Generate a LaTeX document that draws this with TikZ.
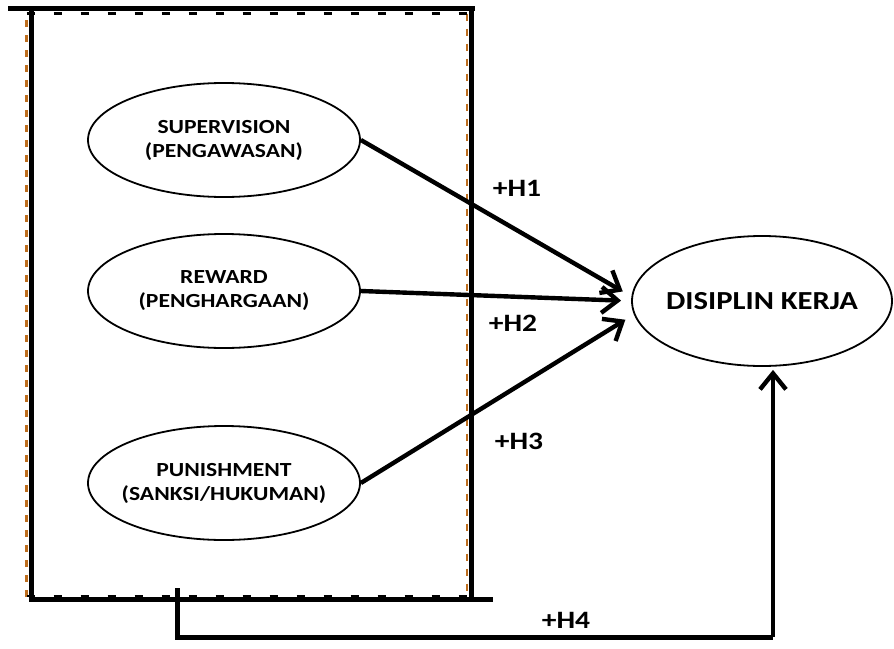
\documentclass[tikz,border=0pt]{standalone}
\usepackage{fontspec}
\setmainfont{Carlito}
\newfontfamily\widefont[FakeStretch=1.18]{Carlito}
\usetikzlibrary{positioning,shapes.geometric,arrows.meta}
\definecolor{dashbrown}{RGB}{190,110,30}
\tikzset{
  varnode/.style={ellipse, draw, line width=1.8pt, minimum width=272pt, minimum height=114pt,
    inner xsep=-25pt, inner ysep=0pt, align=center, font=\widefont\fontsize{20}{24}\selectfont\bfseries},
  hyplabel/.style={font=\widefont\fontsize{25}{30}\selectfont\bfseries},
  framewall/.style={line width=5pt},
  link/.style={line width=4.4pt, -{Straight Barb[length=16pt,width=26pt]}}
}

\begin{document}
\begin{tikzpicture}[x=1pt,y=-1pt]
  \useasboundingbox (0,0) rectangle (894,648);

  % frame round the independent variables
  \draw[dashbrown, line width=2.5pt, dash pattern=on 7pt off 8pt] (26.5,597) -- (26.5,13.5);
  \draw[dashbrown, line width=2.5pt, dash pattern=on 7pt off 8pt] (467,13.5) -- (467,597);
  \draw[line width=2.5pt, dash pattern=on 8pt off 19pt] (26.5,13.5) -- (467,13.5);
  \draw[line width=2.5pt, dash pattern=on 8pt off 19pt] (26.5,596) -- (467,596);
  \draw[framewall] (8,8.5) -- (475,8.5);
  \draw[framewall] (31.5,8) -- (31.5,600);
  \draw[framewall] (471.5,8) -- (471.5,600);
  \draw[framewall] (29,599.5) -- (493,599.5);

  % variables
  \node[varnode] (sup) at (224,140) {SUPERVISION\\(PENGAWASAN)};
  \node[varnode] (rew) at (224,291) {REWARD\\(PENGHARGAAN)};
  \node[varnode] (pun) at (224,483) {PUNISHMENT\\(SANKSI/HUKUMAN)};
  \node[varnode, minimum width=260pt, minimum height=130pt,
    font=\widefont\fontsize{26}{30}\selectfont\bfseries] (kerja) at (762,301) {DISIPLIN KERJA};

  % hypotheses
  \draw[link, shorten >=10pt] (sup.east) -- (kerja.178);
  \draw[link, shorten >=10pt] (rew.east) -- (kerja.180);
  \draw[link, shorten >=10pt] (pun.east) -- (kerja.186);

  \coordinate (h4start) at (177,588);
  \coordinate (h4corner) at (773,637);
  \draw[line width=5pt] (h4start) |- (h4corner);
  \draw[link, shorten >=3pt] (h4corner) -- ([xshift=11pt]kerja.south);

  \node[hyplabel] (h1) at (517,188) {+H1};
  \node[hyplabel] (h2) at (513,323) {+H2};
  \node[hyplabel] (h3) at (519,441) {+H3};
  \node[hyplabel] (h4) at (566,620) {+H4};
\end{tikzpicture}
\end{document}
